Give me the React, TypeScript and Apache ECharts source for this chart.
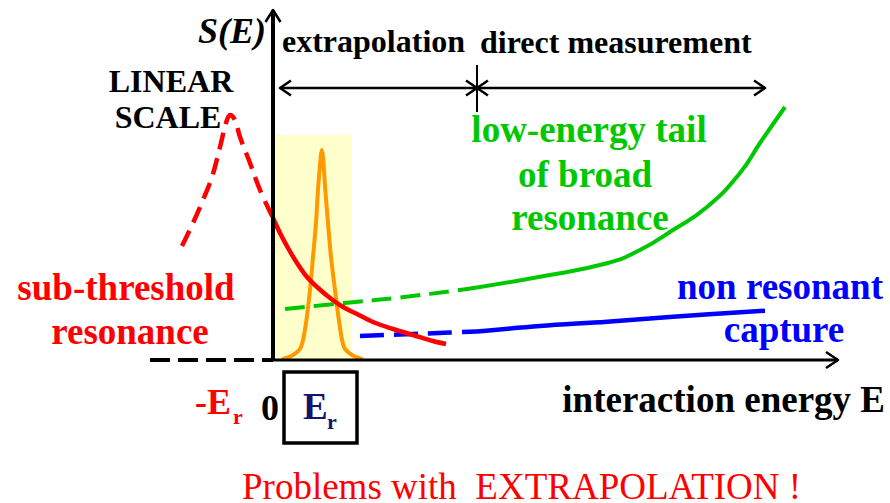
import { useEffect, useRef } from "react";
import * as echarts from "echarts";

// Plot frame: 1 unit = 10 px on both axes, origin at the corner of the S(E) / E axes.
const X_MIN = -27.3;
const X_MAX = 61.7;
const Y_MIN = -14.3;
const Y_MAX = 36.0;

// Energy ranges
const measuredFrom = 20.4; // lowest energy reached by direct measurement
const measuredTo = 49.2;
const extrapolationFrom = 0.7;
const rangeLevel = 27.2;
const gamowWindow = [0, 7.9]; // window around E_r
const gamowWindowHeight = 22.5;
const axisEnd = { x: 56.5, y: 35.0 };
const negativeBaselineFrom = -12.3;

// Sub-threshold resonance: peak at -E_r, tail reaching into E > 0
const subThresholdPeak: number[][] = [
  [-9.1, 11.4], [-8.0, 13.7], [-7.0, 16.0], [-6.1, 18.3], [-5.3, 21.3], [-4.7, 23.7],
  [-4.3, 24.5], [-3.8, 24.0], [-3.3, 22.3], [-2.3, 19.7], [-1.3, 17.0], [0, 14.2],
];
const subThresholdTail: number[][] = [
  [0, 14.2], [0.7, 12.7], [1.5, 11.2], [2.4, 9.7], [3.4, 8.3], [4.4, 7.3], [5.7, 6.2],
  [7.0, 5.3], [8.4, 4.6], [10.0, 3.8], [12.0, 3.1], [14.0, 2.5], [16.0, 1.9], [17.3, 1.6],
];

// Narrow resonance at E_r
const narrowResonance: number[][] = [
  [0.9, 0.07], [2.0, 0.5], [2.8, 1.3], [3.3, 3.7], [3.7, 7.0], [4.0, 10.3], [4.3, 13.7],
  [4.5, 17.0], [4.77, 20.3], [4.87, 21.0], [5.0, 20.3], [5.23, 17.0], [5.5, 13.7],
  [5.8, 10.3], [6.2, 7.0], [6.63, 3.7], [7.1, 1.3], [7.9, 0.5], [9.0, 0.07],
];

// Low-energy tail of a broad resonance
const broadTailExtrapolated: number[][] = [
  [1.2, 5.1], [7.7, 5.75], [12.7, 6.25], [18.7, 7.0], [20.4, 7.25],
];
const broadTailMeasured: number[][] = [
  [20.4, 7.25], [26.7, 8.33], [33.4, 9.67], [36.7, 11.0], [40.0, 13.0], [43.4, 15.3],
  [46.7, 18.7], [48.7, 21.7], [51.2, 25.3],
];

// Non-resonant capture
const nonResonantExtrapolated: number[][] = [
  [8.7, 2.4], [12.7, 2.55], [17.7, 2.75], [20.4, 2.85],
];
const nonResonantMeasured: number[][] = [
  [20.4, 2.85], [26.7, 3.4], [33.4, 3.83], [40.0, 4.33], [49.2, 4.93],
];

const RED = "#FF0000";
const GREEN = "#00C800";
const BLUE = "#0000FF";
const ORANGE = "#FF9900";
const NAVY = "#141470";
const SERIF = "'Liberation Serif'";

// open arrow head with its tip at (tx, ty) pointing along (dx, dy)
function chevron(tx: number, ty: number, dx: number, dy: number, len: number, half: number) {
  const bx = tx - dx * len;
  const by = ty - dy * len;
  return [
    [bx - dy * half, by + dx * half],
    [tx, ty],
    [bx + dy * half, by - dx * half],
  ];
}

function curve(
  data: number[][],
  color: string,
  width: number,
  opts: { dash?: number[]; smooth?: number | boolean; z?: number } = {}
) {
  return {
    type: "line",
    data,
    symbol: "none",
    smooth: opts.smooth ?? 0.35,
    z: opts.z ?? 3,
    silent: true,
    lineStyle: {
      color,
      width,
      type: opts.dash ?? "solid",
      cap: "butt",
      join: "round",
    },
  };
}

function label(
  text: string,
  x: number,
  y: number,
  size: number,
  color: string,
  align: string = "center",
  bold: boolean = true,
  italic: boolean = false
) {
  return {
    type: "text",
    x,
    y,
    style: {
      text,
      fill: color,
      font: `${italic ? "italic " : ""}${bold ? "bold " : ""}${size}px ${SERIF}`,
      align,
      verticalAlign: "middle",
    },
  };
}

export default function App() {
  const ref = useRef<HTMLDivElement>(null);

  useEffect(() => {
    if (!ref.current) return;
    const chart = echarts.init(ref.current, undefined, { renderer: "svg" });

    const arrowHeads = [
      chevron(0, axisEnd.y, 0, 1, 1.2, 0.75),
      chevron(axisEnd.x, 0, 1, 0, 1.2, 0.8),
      chevron(extrapolationFrom, rangeLevel, -1, 0, 1.1, 0.75),
      chevron(measuredFrom, rangeLevel, 1, 0, 1.1, 0.75),
      chevron(measuredFrom, rangeLevel, -1, 0, 1.1, 0.75),
      chevron(measuredTo, rangeLevel, 1, 0, 1.1, 0.75),
    ];

    const bottomNote: any = label("Problems with\u00a0 EXTRAPOLATION !", 242, 486, 37, RED, "left", false);
    bottomNote.style.lineHeight = 30;

    chart.setOption({
      animation: false,
      grid: { left: 0, right: 0, top: 0, bottom: 0 },
      xAxis: { type: "value", min: X_MIN, max: X_MAX, show: false },
      yAxis: { type: "value", min: Y_MIN, max: Y_MAX, show: false },
      series: [
        {
          type: "line",
          data: [],
          z: 1,
          silent: true,
          markArea: {
            silent: true,
            itemStyle: { color: "#FFFFCC" },
            label: { show: false },
            data: [
              [
                { coord: [gamowWindow[0], 0] },
                { coord: [gamowWindow[1], gamowWindowHeight] },
              ],
            ],
          },
        },
        curve(narrowResonance, ORANGE, 4, { smooth: 0.3, z: 3 }),
        curve(broadTailExtrapolated, GREEN, 4, { dash: [20, 9], z: 4 }),
        curve(broadTailMeasured, GREEN, 4, { smooth: 0.5, z: 4 }),
        curve(nonResonantExtrapolated, BLUE, 4.5, { dash: [24, 10], z: 4 }),
        curve(nonResonantMeasured, BLUE, 4.5, { z: 4 }),
        curve(subThresholdPeak, RED, 4.5, { dash: [17, 9], z: 5 }),
        curve(subThresholdTail, RED, 4.5, { z: 5 }),
        // axes
        curve([[negativeBaselineFrom, 0], [0, 0]], "#000", 4, { dash: [20, 8], smooth: false, z: 6 }),
        curve([[0, 0], [axisEnd.x, 0]], "#000", 3, { smooth: false, z: 6 }),
        curve([[0, 0], [0, axisEnd.y]], "#000", 4, { smooth: false, z: 6 }),
        // extrapolation / direct measurement ranges
        curve([[extrapolationFrom, rangeLevel], [measuredTo, rangeLevel]], "#000", 2.5, { smooth: false, z: 6 }),
        curve([[measuredFrom, rangeLevel + 2.3], [measuredFrom, rangeLevel - 2.4]], "#000", 2, { smooth: false, z: 6 }),
        ...arrowHeads.map((a) => curve(a, "#000", 2.5, { smooth: false, z: 6 })),
      ],
      graphic: [
        label("S(E)", 266, 31, 36, "#000", "right", true, true),
        label("extrapolation", 282, 41, 32, "#000", "left"),
        label("direct measurement", 480, 42, 32, "#000", "left"),
        label("LINEAR", 171, 81, 32, "#000"),
        label("SCALE", 168, 117, 32, "#000"),
        label("low-energy tail", 589, 129, 37, GREEN),
        label("of broad", 585, 174, 37, GREEN),
        label("resonance", 590, 217, 37, GREEN),
        label("sub-threshold", 126, 287, 37, RED),
        label("resonance", 130, 331, 37, RED),
        label("non resonant", 780, 286, 37, BLUE),
        label("capture", 784, 329, 37, BLUE),
        label("interaction energy E", 885, 399, 37, "#000", "right"),
        label("-E", 195, 402, 36, RED, "left"),
        label("r", 233, 416, 22, RED, "left"),
        label("0", 270, 408, 36, "#000"),
        label("E", 303, 406, 37, NAVY, "left"),
        label("r", 327, 421, 22, NAVY, "left"),
        bottomNote,
        {
          type: "rect",
          shape: { x: 284, y: 372, width: 73, height: 71 },
          style: { fill: "none", stroke: "#000", lineWidth: 3.5 },
        },
      ],
    });

    return () => chart.dispose();
  }, []);

  return (
    <div
      ref={ref}
      style={{ position: "fixed", left: 0, top: 0, width: 890, height: 503, background: "#fff" }}
    />
  );
}
